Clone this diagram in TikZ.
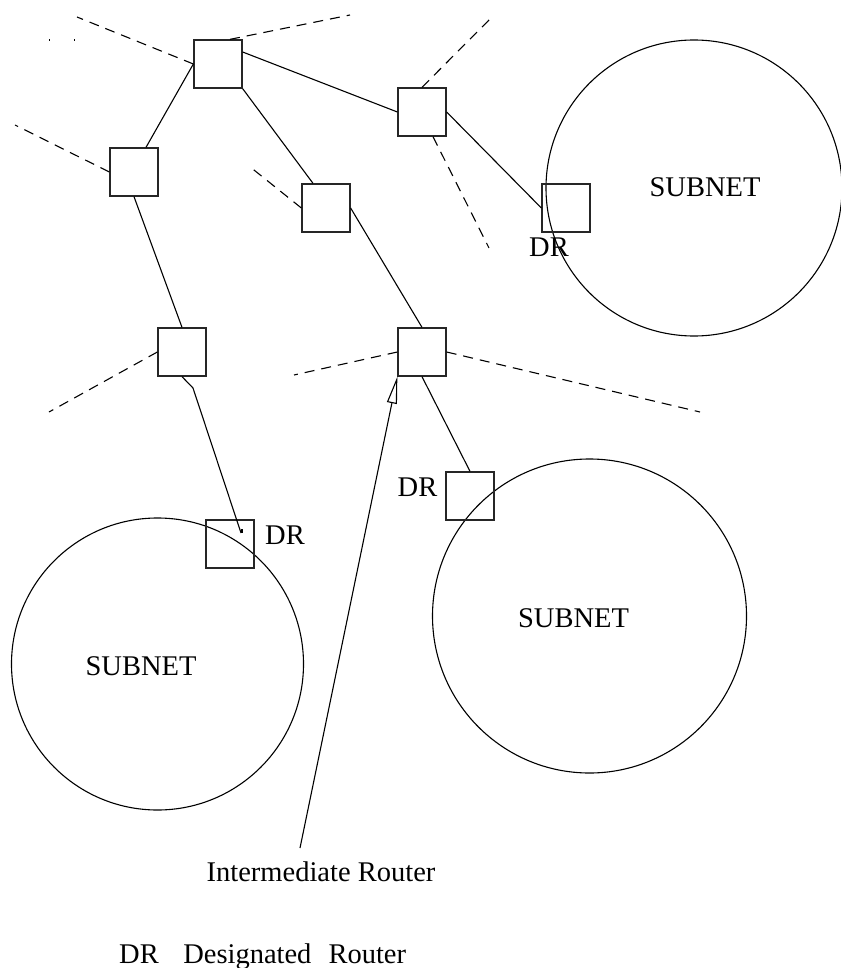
\documentclass[tikz,border=0pt]{standalone}
\usepackage{fontspec}
\setmainfont{Liberation Serif}
\usetikzlibrary{calc,arrows.meta}
\begin{document}
\begin{tikzpicture}[x=1pt,y=-1pt,
  router/.style={draw=black!85, line width=1.3pt, minimum size=48pt, inner sep=0pt},
  subnet/.style={draw, circle, line width=1.1pt, inner sep=0pt},
  link/.style={line width=1.1pt},
  stub/.style={line width=1.1pt, dash pattern=on 10pt off 7pt},
  lbl/.style={inner sep=0pt, font=\fontsize{28.5}{34}\selectfont}]
\useasboundingbox (0,0) rectangle (840,968);

% subnets
\node[subnet, minimum size=296pt] (s1) at (694,188) {};
\node[subnet, minimum size=292pt] (s2) at (157.5,664) {};
\node[subnet, minimum size=314pt] (s3) at (589.5,616) {};
\node[lbl] (s1t) at (705,187) {SUBNET};
\node[lbl] (s2t) at (141,666.5) {SUBNET};
\node[lbl] (s3t) at (573.5,618.5) {SUBNET};

% routers
\node[router] (A) at (218,64) {};
\node[router] (B) at (134,172) {};
\node[router] (C) at (326,208) {};
\node[router] (D) at (422,112) {};
\node[router] (E) at (566,208) {};
\node[router] (F) at (422,352) {};
\node[router] (G) at (470,496) {};
\node[router] (H) at (182,352) {};
\node[router] (I) at (230,544) {};

% designated router labels
\node[lbl] (dr1) at (549,247) {DR};
\node[lbl] (dr2) at (417.5,487) {DR};
\node[lbl] (dr3) at (285,535.5) {DR};

% links between routers
\draw[link] (A.west) -- ($(B.north)+(12,0)$);
\draw[link] ($(A.east)+(0,-12)$) -- (D.west);
\draw[link] (A.south east) -- ($(C.north)+(-13,0)$);
\draw[link] (B.south) -- (H.north);
\coordinate (hbend) at (193,388);
\coordinate (hend) at (241,533);
\draw[link] (H.south) -- (hbend) -- (hend);
\draw[link] (242,529) -- (242,533);
\draw[link] (C.east) -- (F.north);
\draw[link] (F.south) -- (G.north);
\draw[link] (D.east) -- (E.west);

% links leaving the picture
\coordinate (a1) at (77,17);
\coordinate (a2) at (350,15);
\coordinate (b1) at (15,125);
\coordinate (c1) at (249,166);
\coordinate (d1) at (493,16);
\coordinate (d2) at (489,248);
\coordinate (h1) at (49,412);
\coordinate (f1) at (294,375);
\coordinate (f2) at (700,412);
\draw[stub] (A.west) -- (a1);
\draw[stub] ($(A.north)+(12,0)$) -- (a2);
\draw[stub] (B.west) -- (b1);
\draw[stub] (C.west) -- (c1);
\draw[stub] (D.north) -- (d1);
\draw[stub] ($(D.south)+(11,0)$) -- (d2);
\draw[stub] (H.west) -- (h1);
\draw[stub] (F.west) -- (f1);
\draw[stub] (F.east) -- (f2);
\fill (48.5,39.5) rectangle (50,41);
\fill (73.5,39.5) rectangle (75,41);

% pointer to the intermediate router
\node[lbl] (ir) at (321,871.5) {Intermediate Router};
\coordinate (tail) at (300,848);
\draw[link, -{Triangle[open, length=27pt, width=10pt]}] (tail) -- (F.south west);

% key
\node[lbl, anchor=base west] (key) at (119,963) {DR\hspace{24.5pt}Designated\hspace{17pt}Router};
\end{tikzpicture}
\end{document}
